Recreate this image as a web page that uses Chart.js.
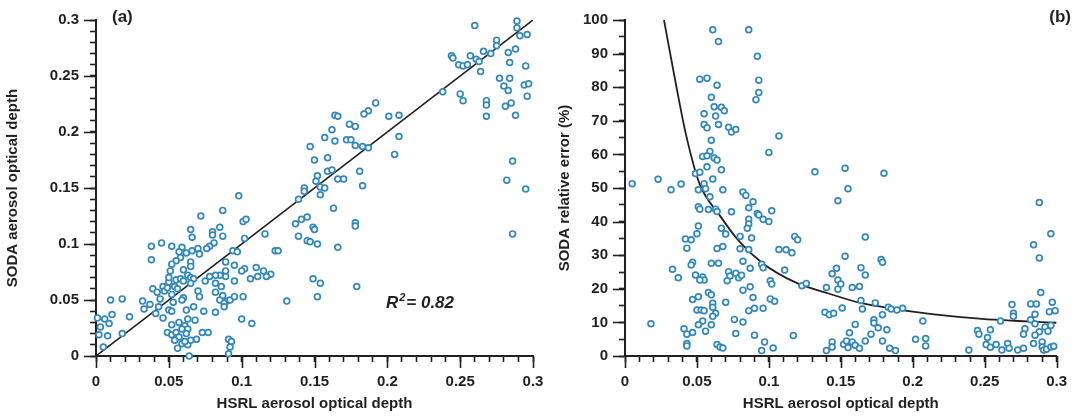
<!DOCTYPE html>
<html>
<head>
<meta charset="utf-8">
<script src="https://cdn.jsdelivr.net/npm/chart.js@4.4.1/dist/chart.umd.min.js"></script>
<style>
  html, body { margin: 0; padding: 0; background: #fff; }
  #wrap { position: relative; width: 1078px; height: 419px; overflow: hidden; }
  canvas { position: absolute; top: 0; }
  #chartA { left: 0; }
  #chartB { left: 540px; }
</style>
</head>
<body>
<div id="wrap">
  <canvas id="chartA" width="560" height="419"></canvas>
  <canvas id="chartB" width="538" height="419"></canvas>
</div>
<script>
// ---- panel (a): SODA vs HSRL aerosol optical depth ----
const hsrlA = [
  0.147,0.150,0.152,0.151,0.143,0.260,0.289,0.289,0.291,0.296,0.275,0.275,0.288,0.283,0.271,0.266,0.257,0.261,0.263,0.244,
  0.245,0.249,0.252,0.255,0.284,0.264,0.295,0.277,0.284,0.280,0.283,0.294,0.297,0.296,0.238,0.250,0.252,0.268,0.268,0.285,
  0.281,0.268,0.288,0.286,0.282,0.295,0.286,0.192,0.187,0.184,0.164,0.166,0.201,0.208,0.174,0.178,0.162,0.157,0.164,0.172,
  0.175,0.178,0.183,0.187,0.208,0.205,0.159,0.159,0.162,0.166,0.170,0.181,0.183,0.154,0.157,0.143,0.139,0.154,0.098,0.072,
  0.087,0.101,0.103,0.085,0.065,0.080,0.080,0.087,0.066,0.116,0.102,0.081,0.078,0.076,0.137,0.141,0.145,0.149,0.150,0.139,
  0.145,0.147,0.152,0.123,0.125,0.038,0.045,0.052,0.059,0.070,0.066,0.071,0.057,0.062,0.058,0.055,0.052,0.038,0.065,0.094,
  0.097,0.089,0.095,0.102,0.100,0.110,0.115,0.120,0.117,0.111,0.106,0.089,0.089,0.085,0.082,0.078,0.075,0.095,0.082,0.086,
  0.082,0.070,0.071,0.087,0.085,0.090,0.092,0.095,0.101,0.088,0.088,0.082,0.074,0.131,0.100,0.107,0.073,0.077,0.091,0.093,
  0.092,0.091,0.064,0.001,0.006,0.003,0.009,0.002,0.008,0.005,0.011,0.010,0.018,0.018,0.023,0.032,0.033,0.037,0.039,0.042,
  0.046,0.047,0.044,0.041,0.043,0.046,0.050,0.052,0.052,0.049,0.053,0.052,0.049,0.050,0.050,0.051,0.055,0.054,0.056,0.058,
  0.060,0.063,0.060,0.065,0.067,0.065,0.060,0.059,0.062,0.067,0.063,0.068,0.057,0.061,0.052,0.055,0.059,0.063,0.062,0.057,
  0.054,0.059,0.063,0.061,0.056,0.069,0.065,0.065,0.163,0.178,0.178,0.166,0.149,0.154,0.152,0.179
];
const sodaA = [
  0.187,0.175,0.161,0.156,0.150,0.295,0.299,0.293,0.286,0.287,0.282,0.277,0.274,0.271,0.270,0.272,0.268,0.265,0.263,0.268,
  0.266,0.260,0.259,0.260,0.262,0.254,0.259,0.248,0.248,0.241,0.237,0.242,0.243,0.232,0.236,0.234,0.228,0.228,0.224,0.226,
  0.223,0.214,0.215,0.174,0.157,0.149,0.109,0.226,0.219,0.216,0.215,0.214,0.214,0.215,0.207,0.205,0.202,0.195,0.192,0.193,
  0.193,0.188,0.187,0.186,0.196,0.180,0.177,0.165,0.166,0.158,0.158,0.165,0.152,0.151,0.150,0.147,0.140,0.144,0.143,0.125,
  0.130,0.120,0.122,0.115,0.113,0.111,0.108,0.107,0.106,0.109,0.105,0.101,0.098,0.096,0.118,0.122,0.124,0.115,0.113,0.107,
  0.103,0.102,0.100,0.094,0.094,0.098,0.101,0.098,0.097,0.096,0.094,0.091,0.093,0.092,0.088,0.085,0.082,0.086,0.084,0.094,
  0.093,0.084,0.081,0.078,0.076,0.079,0.076,0.073,0.071,0.071,0.069,0.076,0.071,0.072,0.072,0.071,0.067,0.067,0.065,0.062,
  0.057,0.058,0.053,0.054,0.050,0.049,0.050,0.053,0.053,0.047,0.044,0.039,0.040,0.049,0.033,0.029,0.021,0.021,0.015,0.013,
  0.008,0.002,0.000,0.034,0.033,0.026,0.029,0.019,0.018,0.008,0.037,0.050,0.051,0.020,0.035,0.049,0.042,0.046,0.060,0.057,
  0.062,0.058,0.051,0.038,0.044,0.034,0.041,0.040,0.028,0.021,0.048,0.055,0.061,0.066,0.070,0.076,0.068,0.062,0.060,0.069,
  0.077,0.072,0.067,0.070,0.069,0.065,0.052,0.050,0.041,0.044,0.033,0.032,0.030,0.027,0.019,0.021,0.024,0.024,0.020,0.017,
  0.014,0.011,0.010,0.013,0.007,0.015,0.014,0.080,0.132,0.119,0.116,0.097,0.069,0.065,0.053,0.062
];
const oneToOneX = [0, 0.3];
const oneToOneY = [0, 0.3];

// ---- panel (b): SODA relative error vs HSRL aerosol optical depth ----
const hsrlB = [
  0.061,0.086,0.065,0.092,0.052,0.057,0.064,0.093,0.093,0.091,0.060,0.062,0.067,0.069,0.055,0.063,0.055,0.057,0.065,0.072,
  0.074,0.077,0.060,0.107,0.059,0.054,0.057,0.062,0.064,0.100,0.057,0.067,0.049,0.052,0.132,0.005,0.023,0.039,0.032,0.055,
  0.061,0.051,0.056,0.068,0.082,0.153,0.180,0.155,0.059,0.084,0.089,0.086,0.092,0.093,0.102,0.096,0.100,0.086,0.086,0.085,
  0.051,0.052,0.058,0.063,0.064,0.074,0.051,0.050,0.067,0.070,0.080,0.088,0.042,0.046,0.043,0.064,0.068,0.080,0.086,0.107,
  0.112,0.116,0.118,0.120,0.047,0.046,0.060,0.065,0.082,0.095,0.096,0.087,0.111,0.033,0.037,0.049,0.054,0.055,0.052,0.072,
  0.073,0.071,0.077,0.079,0.081,0.101,0.102,0.123,0.126,0.082,0.087,0.058,0.060,0.047,0.051,0.061,0.061,0.063,0.061,0.070,
  0.089,0.101,0.104,0.050,0.053,0.055,0.086,0.090,0.096,0.054,0.051,0.060,0.076,0.082,0.018,0.041,0.043,0.047,0.056,0.077,
  0.090,0.117,0.097,0.043,0.043,0.064,0.066,0.068,0.095,0.103,0.140,0.144,0.147,0.148,0.148,0.148,0.139,0.142,0.145,0.144,
  0.144,0.140,0.167,0.153,0.178,0.179,0.150,0.164,0.167,0.163,0.158,0.164,0.165,0.151,0.174,0.183,0.185,0.189,0.193,0.179,
  0.173,0.173,0.176,0.160,0.182,0.156,0.171,0.167,0.152,0.154,0.155,0.158,0.160,0.163,0.179,0.184,0.188,0.207,0.202,0.209,
  0.209,0.239,0.245,0.246,0.254,0.252,0.251,0.254,0.258,0.261,0.262,0.266,0.267,0.273,0.277,0.269,0.270,0.270,0.278,0.277,
  0.282,0.286,0.289,0.285,0.282,0.285,0.288,0.285,0.284,0.290,0.290,0.291,0.293,0.296,0.298,0.292,0.294,0.296,0.295,0.299,
  0.297,0.284,0.288,0.288,0.296
];
const errB = [
  97.1,97.1,93.6,89.2,82.4,82.7,80.6,82.1,78.4,76.3,77.0,74.2,74.0,73.0,72.1,71.4,68.9,67.9,68.9,68.1,
  66.7,67.4,64.2,65.5,60.9,59.4,59.6,58.9,58.3,60.6,56.3,55.4,54.3,54.7,54.8,51.3,52.6,51.2,49.5,51.3,
  52.7,49.5,49.8,49.5,48.8,55.9,54.4,49.8,47.4,47.8,45.9,44.1,42.4,42.0,43.2,40.7,40.0,40.7,39.3,38.0,
  44.4,43.7,43.6,43.7,43.0,42.9,38.7,36.4,38.0,36.3,35.6,35.1,34.8,34.6,32.1,32.0,32.6,31.9,31.7,31.7,
  31.6,30.7,35.6,34.6,27.9,27.1,27.6,27.6,28.2,27.3,26.3,26.1,25.6,25.8,23.3,24.1,23.5,22.6,22.6,25.1,
  23.8,22.4,24.6,23.3,24.0,22.4,21.4,20.9,21.6,19.6,20.6,18.9,18.2,16.8,17.6,15.7,14.5,12.7,11.8,16.0,
  17.4,17.0,16.3,13.7,13.7,13.5,13.5,14.2,14.2,10.4,9.3,9.3,10.9,10.1,9.6,8.1,6.5,7.0,7.4,6.7,
  6.2,6.1,4.2,3.7,3.0,3.4,2.7,2.4,1.6,2.4,20.4,24.5,26.1,22.6,19.9,46.2,13.0,12.3,12.7,4.2,
  2.7,1.6,35.4,29.7,28.7,27.9,21.4,26.3,24.1,20.7,20.4,16.5,14.0,14.3,15.8,14.5,14.0,13.7,14.2,12.3,
  10.8,9.8,8.4,9.4,7.8,6.9,6.5,4.5,3.5,4.5,2.5,4.2,3.2,2.3,4.5,2.3,1.6,10.4,5.0,5.2,
  3.0,1.8,7.6,6.5,7.8,5.5,3.4,2.6,3.4,10.4,1.8,3.7,2.3,1.8,2.3,15.3,12.7,11.8,8.1,6.5,
  15.5,15.5,18.9,12.4,10.8,9.6,7.2,6.2,3.7,4.2,2.7,1.8,2.0,2.7,2.9,8.6,7.4,9.1,13.2,13.5,
  16.0,33.1,29.2,45.7,36.4
];
// fitted curve
const fitX = [0.0271,0.0357,0.0426,0.0518,0.0656,0.0794,0.0954,0.1185,0.1415,0.1645,0.1875,0.2105,0.2335,0.2565,0.2795,0.3];
const fitY = [100,80.2,65.5,51.3,42.0,34.1,27.7,21.9,18.6,15.7,14.0,12.6,11.6,10.8,10.3,9.9];

const INK = '#231f20';
const DOT = '#3288bd';
const FONT = "'Liberation Sans', Arial, Helvetica, sans-serif";

function pairs(xs, ys) {
  return xs.map((x, i) => ({ x: x, y: ys[i] }));
}

function isMajor(v, major) {
  const r = v / major;
  return Math.abs(r - Math.round(r)) < 1e-6;
}

// long ticks at the labelled values, short ones come from the scale itself
const majorTicks = {
  id: 'majorTicks',
  afterDraw(chart, args, opts) {
    const { ctx, chartArea } = chart;
    const xs = chart.scales.x, ys = chart.scales.y;
    ctx.save();
    ctx.strokeStyle = INK;
    ctx.lineWidth = 1.6;
    xs.ticks.forEach(t => {
      if (!isMajor(t.value, opts.xMajor)) return;
      const px = Math.round(xs.getPixelForValue(t.value)) + 0.5;
      ctx.beginPath();
      ctx.moveTo(px, chartArea.bottom);
      ctx.lineTo(px, chartArea.bottom + 12);
      ctx.stroke();
    });
    ys.ticks.forEach(t => {
      if (!isMajor(t.value, opts.yMajor)) return;
      const py = Math.round(ys.getPixelForValue(t.value)) + 0.5;
      ctx.beginPath();
      ctx.moveTo(chartArea.left, py);
      ctx.lineTo(chartArea.left - 12, py);
      ctx.stroke();
    });
    ctx.restore();
  }
};

// panel letters and the R^2 note
const notes = {
  id: 'notes',
  afterDraw(chart, args, opts) {
    const ctx = chart.ctx;
    ctx.save();
    ctx.fillStyle = INK;
    ctx.textBaseline = 'middle';
    ctx.font = 'bold 17px ' + FONT;
    ctx.textAlign = opts.letterAlign;
    ctx.fillText(opts.letter, opts.letterX, 17);
    if (opts.r2) {
      const xs = chart.scales.x, ys = chart.scales.y;
      let px = xs.getPixelForValue(opts.r2.x);
      const py = ys.getPixelForValue(opts.r2.y);
      ctx.textAlign = 'left';
      ctx.font = 'italic bold 17px ' + FONT;
      ctx.fillText('R', px, py);
      px += ctx.measureText('R').width + 1;
      ctx.font = 'italic bold 11px ' + FONT;
      ctx.fillText('2', px, py - 6);
      px += ctx.measureText('2').width + 1;
      ctx.font = 'italic bold 17px ' + FONT;
      ctx.fillText('= ' + opts.r2.text, px, py);
    }
    ctx.restore();
  }
};

function axis(min, max, step, major, title, titlePad, fitSize, horizontal) {
  return {
    type: 'linear',
    min: min,
    max: max,
    afterFit(scale) {
      if (horizontal) scale.height = fitSize; else scale.width = fitSize;
    },
    border: { display: true, color: INK, width: 2 },
    grid: {
      drawOnChartArea: false,
      drawTicks: true,
      tickLength: 6,
      tickColor: INK,
      tickWidth: 1.6
    },
    ticks: {
      stepSize: step,
      autoSkip: false,
      maxRotation: 0,
      padding: 11,
      color: INK,
      font: { family: FONT, size: 15, weight: 'bold' },
      callback: function (v) {
        if (!isMajor(v, major)) return '';
        return String(+v.toFixed(2));
      }
    },
    title: {
      display: true,
      text: title,
      color: INK,
      font: { family: FONT, size: 15, weight: 'bold' },
      padding: titlePad
    }
  };
}

const pointStyle = {
  showLine: false,
  pointRadius: 2.9,
  pointBorderWidth: 1.7,
  pointBorderColor: DOT,
  pointBackgroundColor: '#fff',
  pointHoverRadius: 2.9,
  clip: false
};

new Chart(document.getElementById('chartA'), {
  type: 'scatter',
  data: {
    datasets: [
      Object.assign({ label: 'points', data: pairs(hsrlA, sodaA) }, pointStyle),
      {
        label: '1:1',
        data: pairs(oneToOneX, oneToOneY),
        showLine: true,
        borderColor: INK,
        borderWidth: 1.6,
        pointRadius: 0
      }
    ]
  },
  options: {
    responsive: false,
    animation: false,
    devicePixelRatio: 1,
    layout: { padding: { left: 0, top: 16, right: 27, bottom: 0 } },
    plugins: {
      legend: { display: false },
      tooltip: { enabled: false },
      majorTicks: { xMajor: 0.05, yMajor: 0.05 },
      notes: { letter: '(a)', letterX: 112, letterAlign: 'left', r2: { x: 0.199, y: 0.0467, text: '0.82' } }
    },
    scales: {
      x: axis(0, 0.3, 0.01, 0.05, 'HSRL aerosol optical depth', { top: 0, bottom: 6 }, 63, true),
      y: axis(0, 0.3, 0.01, 0.05, 'SODA aerosol optical depth', { top: 4, bottom: 0 }, 96, false)
    }
  },
  plugins: [majorTicks, notes]
});

new Chart(document.getElementById('chartB'), {
  type: 'scatter',
  data: {
    datasets: [
      Object.assign({ label: 'points', data: pairs(hsrlB, errB) }, pointStyle),
      {
        label: 'fit',
        data: pairs(fitX, fitY),
        showLine: true,
        cubicInterpolationMode: 'monotone',
        borderColor: INK,
        borderWidth: 1.8,
        pointRadius: 0
      }
    ]
  },
  options: {
    responsive: false,
    animation: false,
    devicePixelRatio: 1,
    layout: { padding: { left: 0, top: 16, right: 18, bottom: 0 } },
    plugins: {
      legend: { display: false },
      tooltip: { enabled: false },
      majorTicks: { xMajor: 0.05, yMajor: 10 },
      notes: { letter: '(b)', letterX: 531, letterAlign: 'right' }
    },
    scales: {
      x: axis(0, 0.3, 0.01, 0.05, 'HSRL aerosol optical depth', { top: 0, bottom: 6 }, 63, true),
      y: axis(0, 100, 5, 10, 'SODA relative error (%)', { top: 16, bottom: 0 }, 85, false)
    }
  },
  plugins: [majorTicks, notes]
});
</script>
</body>
</html>
